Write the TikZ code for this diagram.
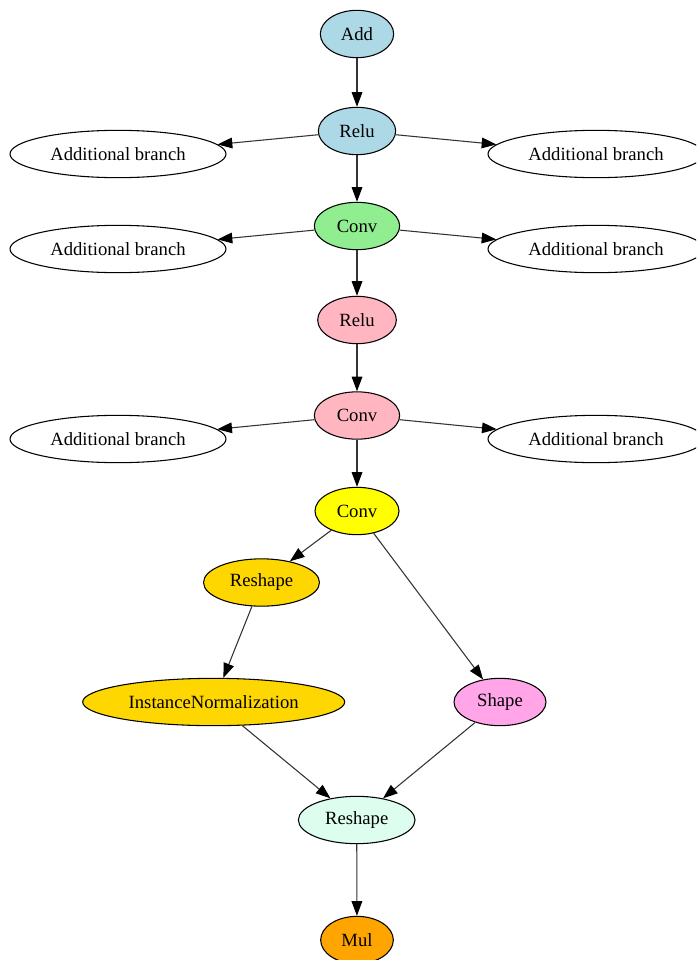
\documentclass[tikz,border=0pt]{standalone}
\usepackage{fontspec}
\setmainfont{Liberation Serif}
\usetikzlibrary{shapes.geometric,arrows.meta}
\definecolor{cblue}{HTML}{ADD8E6}
\definecolor{cgreen}{HTML}{90EE90}
\definecolor{cpink}{HTML}{FFB6C1}
\definecolor{cyellow}{HTML}{FFFF00}
\definecolor{cgold}{HTML}{FFD700}
\definecolor{cviolet}{HTML}{FFA5E8}
\definecolor{cmint}{HTML}{DDFDEE}
\definecolor{corange}{HTML}{FFA500}
\tikzset{
  op/.style={ellipse, draw=black, line width=0.8pt, inner sep=0pt,
    minimum height=35.5pt, font=\fontsize{14}{16}\selectfont},
  conn/.style={-{Triangle[length=11pt,width=8pt,color=black,fill=black]}, line width=0.8pt, draw=black!80},
}
\begin{document}
\begin{tikzpicture}[x=0.75pt,y=-0.75pt]
\useasboundingbox (0,0) rectangle (696,960);
\begin{scope}
\clip (0,0) rectangle (696,960);
\node[op, fill=cblue, minimum width=55pt] (add) at (357,34) {Add};
\node[op, fill=cblue, minimum width=58pt] (relu1) at (357,131) {Relu};
\node[op, fill=white, minimum width=162pt] (ab1l) at (118,154) {Additional branch};
\node[op, fill=white, minimum width=162pt] (ab1r) at (596,154) {Additional branch};
\node[op, fill=cgreen, minimum width=64pt] (conv1) at (357,226) {Conv};
\node[op, fill=white, minimum width=162pt] (ab2l) at (118,249) {Additional branch};
\node[op, fill=white, minimum width=162pt] (ab2r) at (596,249) {Additional branch};
\node[op, fill=cpink, minimum width=59pt] (relu2) at (357,320) {Relu};
\node[op, fill=cpink, minimum width=64pt] (conv2) at (357,415.5) {Conv};
\node[op, fill=white, minimum width=162pt] (ab3l) at (118,439) {Additional branch};
\node[op, fill=white, minimum width=162pt] (ab3r) at (596,439) {Additional branch};
\node[op, fill=cyellow, minimum width=63pt] (conv3) at (357,511) {Conv};
\node[op, fill=cgold, minimum width=87pt] (rs1) at (261.5,582.5) {Reshape};
\node[op, fill=cgold, minimum width=196.5pt] (inorm) at (213.7,702) {InstanceNormalization};
\node[op, fill=cviolet, minimum width=69pt] (shape) at (500,702) {Shape};
\node[op, fill=cmint, minimum width=87.5pt] (rs2) at (356.7,820) {Reshape};
\node[op, fill=corange, minimum width=54.5pt] (mul) at (357,940) {Mul};
\end{scope}
\draw[conn] (add) -- (relu1);
\draw[conn] (relu1) -- (ab1l);
\draw[conn] (relu1) -- (ab1r);
\draw[conn] (relu1) -- (conv1);
\draw[conn] (conv1) -- (ab2l);
\draw[conn] (conv1) -- (ab2r);
\draw[conn] (conv1) -- (relu2);
\draw[conn] (relu2) -- (conv2);
\draw[conn] (conv2) -- (ab3l);
\draw[conn] (conv2) -- (ab3r);
\draw[conn] (conv2) -- (conv3);
\draw[conn] (conv3) -- (rs1);
\draw[conn] (conv3) -- (shape);
\draw[conn] (rs1) -- (inorm);
\draw[conn] (inorm) -- (rs2);
\draw[conn] (shape) -- (rs2);
\draw[conn] (rs2) -- (mul);
\end{tikzpicture}
\end{document}
